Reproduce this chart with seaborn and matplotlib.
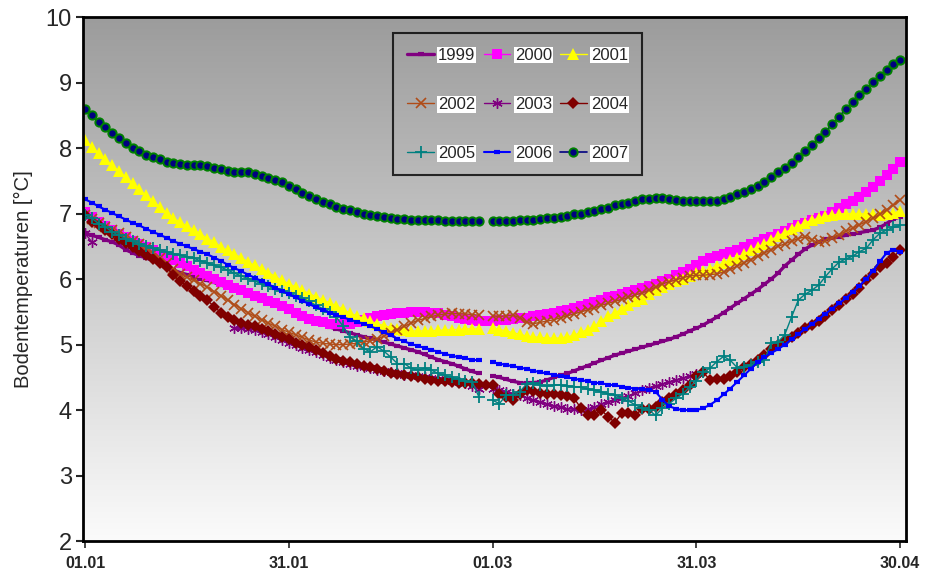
import matplotlib
matplotlib.use("Agg")
import matplotlib.pyplot as plt
from matplotlib.lines import Line2D
from matplotlib.colors import LinearSegmentedColormap
import numpy as np
import pandas as pd
import seaborn as sns

N = None  # no measurement for that day

# day index 0 = 01.01 ... 120 = 30.04 (index 59 = 29.02)
date_ticks = [0, 30, 60, 90, 120]
date_labels = ["01.01", "31.01", "01.03", "31.03", "30.04"]
years = ["1999", "2000", "2001", "2002", "2003", "2004", "2005", "2006", "2007"]

t1999 = [6.70, 6.67, 6.64, 6.60, 6.57, 6.52, 6.45, 6.40, 6.36, 6.32,
         6.29, 6.24, 6.18, 6.14, 6.10, 6.07, 6.04, 6.01, 5.98, 5.95,
         5.91, 5.88, 5.84, 5.81, 5.77, 5.73, 5.70, 5.66, 5.63, 5.59,
         5.55, 5.50, 5.45, 5.40, 5.35, 5.31, 5.27, 5.24, 5.21, 5.18,
         5.15, 5.12, 5.10, 5.07, 5.04, 5.01, 4.98, 4.95, 4.92, 4.89,
         4.85, 4.81, 4.77, 4.74, 4.71, 4.67, 4.63, 4.59, 4.56, N,
         4.52, 4.50, 4.47, 4.44, 4.42, 4.41, 4.42, 4.43, 4.46, 4.50,
         4.53, 4.56, 4.60, 4.64, 4.68, 4.72, 4.76, 4.80, 4.84, 4.87,
         4.90, 4.93, 4.96, 4.99, 5.02, 5.05, 5.08, 5.12, 5.16, 5.21,
         5.25, 5.30, 5.36, 5.42, 5.49, 5.56, 5.63, 5.70, 5.77, 5.84,
         5.92, 6.00, 6.09, 6.20, 6.29, 6.38, 6.46, 6.52, 6.57, 6.61,
         6.63, 6.65, 6.67, 6.69, 6.71, 6.73, 6.75, 6.79, 6.85, 6.92,
         6.95]

t2000 = [7.03, 6.95, 6.87, 6.81, 6.75, 6.69, 6.64, 6.58, 6.53, 6.49,
         6.44, 6.39, 6.34, 6.29, 6.25, 6.20, 6.14, 6.09, 6.05, 6.00,
         5.96, 5.91, 5.87, 5.83, 5.79, 5.74, 5.71, 5.67, 5.63, 5.59,
         5.54, 5.49, 5.43, 5.39, 5.36, 5.34, 5.32, 5.31, 5.31, 5.32,
         5.34, 5.37, 5.40, 5.43, 5.45, 5.47, 5.48, 5.49, 5.50, 5.50,
         5.50, 5.49, 5.48, 5.46, 5.44, 5.41, 5.39, 5.37, 5.36, 5.36,
         5.36, 5.37, 5.38, 5.39, 5.40, 5.41, 5.43, 5.45, 5.47, 5.49,
         5.51, 5.53, 5.56, 5.59, 5.62, 5.65, 5.68, 5.72, 5.75, 5.78,
         5.81, 5.84, 5.87, 5.90, 5.93, 5.97, 6.01, 6.06, 6.11, 6.16,
         6.21, 6.27, 6.32, 6.35, 6.38, 6.42, 6.45, 6.49, 6.53, 6.57,
         6.61, 6.65, 6.69, 6.73, 6.78, 6.82, 6.86, 6.90, 6.93, 6.97,
         7.02, 7.08, 7.15, 7.20, 7.26, 7.33, 7.41, 7.50, 7.59, 7.69,
         7.79]

t2001 = [8.12, 8.02, 7.93, 7.83, 7.74, 7.65, 7.56, 7.47, 7.37, 7.28,
         7.19, 7.10, 7.01, 6.93, 6.87, 6.81, 6.75, 6.69, 6.62, 6.57,
         6.49, 6.44, 6.38, 6.33, 6.26, 6.21, 6.16, 6.10, 6.04, 5.98,
         5.93, 5.88, 5.83, 5.78, 5.73, 5.68, 5.64, 5.59, 5.54, 5.48,
         5.44, 5.40, 5.36, 5.32, 5.29, 5.26, 5.24, 5.22, 5.21, 5.21,
         5.21, 5.21, 5.22, 5.22, 5.23, 5.23, 5.24, 5.24, 5.24, N,
         5.25, 5.23, 5.21, 5.18, 5.16, 5.13, 5.12, 5.11, 5.10, 5.10,
         5.10, 5.12, 5.14, 5.19, 5.23, 5.28, 5.36, 5.43, 5.49, 5.54,
         5.60, 5.66, 5.70, 5.77, 5.83, 5.88, 5.93, 5.97, 6.01, 6.05,
         6.09, 6.12, 6.16, 6.20, 6.25, 6.29, 6.33, 6.38, 6.44, 6.49,
         6.54, 6.60, 6.66, 6.71, 6.76, 6.81, 6.86, 6.90, 6.93, 6.96,
         6.98, 6.99, 7.00, 7.00, 7.00, 6.99, 6.99, 6.98, 6.99, 7.01,
         7.04]

t2002 = [6.98, 6.92, 6.86, 6.80, 6.75, 6.70, 6.65, 6.59, 6.53, 6.47,
         6.40, 6.33, 6.25, 6.16, 6.08, 6.03, 5.98, 5.93, 5.88, 5.81,
         5.75, 5.68, 5.61, 5.55, 5.49, 5.43, 5.38, 5.33, 5.28, 5.23,
         5.19, 5.15, 5.11, 5.07, 5.04, 5.02, 5.01, 5.00, 5.00, 5.01,
         5.02, 5.04, 5.06, 5.09, 5.13, 5.18, 5.23, 5.28, 5.33, 5.37,
         5.40, 5.43, 5.45, 5.47, 5.48, 5.47, 5.47, 5.46, 5.45, N,
         5.44, 5.43, 5.44, 5.45, 5.41, 5.34, 5.32, 5.34, 5.36, 5.38,
         5.41, 5.44, 5.47, 5.50, 5.53, 5.56, 5.60, 5.63, 5.66, 5.69,
         5.72, 5.76, 5.79, 5.83, 5.88, 5.93, 5.96, 5.99, 6.02, 6.05,
         6.06, 6.06, 6.07, 6.08, 6.11, 6.15, 6.20, 6.25, 6.30, 6.35,
         6.40, 6.45, 6.50, 6.54, 6.58, 6.62, 6.65, 6.60, 6.56, 6.59,
         6.63, 6.68, 6.73, 6.78, 6.83, 6.88, 6.93, 6.99, 7.06, 7.13,
         7.21]

t2003 = [6.70, 6.57, N, N, N, N, N, N, N, N,
         N, N, N, N, N, N, N, N, N, N,
         N, N, 5.25, 5.25, 5.24, 5.22, 5.20, 5.16, 5.12, 5.07,
         5.03, 4.99, 4.95, 4.92, 4.88, 4.84, 4.80, 4.76, 4.73, 4.70,
         4.68, 4.66, 4.64, 4.62, 4.60, 4.58, 4.56, 4.54, 4.53, 4.52,
         4.50, 4.49, 4.48, 4.46, 4.44, 4.43, 4.41, 4.37, 4.33, N,
         4.33, 4.31, 4.27, 4.25, 4.23, 4.19, 4.15, 4.12, 4.09, 4.06,
         4.04, 4.02, 4.01, 4.00, 4.01, 4.04, 4.09, 4.13, 4.16, 4.19,
         4.22, 4.26, 4.30, 4.34, 4.37, 4.40, 4.43, 4.46, 4.49, 4.52,
         4.55, N, N, N, N, N, N, N, N, N,
         N, N, N, N, N, N, N, N, N, N,
         N, N, N, N, N, N, N, N, N, N,
         N]

t2004 = [6.98, 6.88, 6.82, 6.75, 6.69, 6.62, 6.55, 6.49, 6.43, 6.37,
         6.31, 6.25, 6.18, 6.06, 5.97, 5.90, 5.82, 5.75, 5.68, 5.58,
         5.49, 5.42, 5.38, 5.33, 5.30, 5.28, 5.24, 5.21, 5.17, 5.12,
         5.08, 5.03, 4.99, 4.96, 4.92, 4.87, 4.82, 4.78, 4.75, 4.73,
         4.71, 4.68, 4.66, 4.63, 4.60, 4.57, 4.55, 4.53, 4.52, 4.50,
         4.48, 4.46, 4.45, 4.44, 4.43, 4.42, 4.42, 4.41, 4.40, 4.38,
         4.38, 4.25, 4.20, 4.15, 4.25, 4.30, 4.29, 4.26, 4.25, 4.24,
         4.23, 4.21, 4.18, 4.03, 3.92, 3.92, 4.00, 3.90, 3.81, 3.95,
         3.95, 3.93, 4.01, 4.02, 4.04, 4.12, 4.19, 4.25, 4.31, 4.38,
         4.52, 4.58, 4.46, 4.47, 4.48, 4.52, 4.58, 4.66, 4.71, 4.76,
         4.84, 4.93, 4.99, 5.06, 5.12, 5.18, 5.25, 5.30, 5.36, 5.44,
         5.53, 5.60, 5.69, 5.78, 5.87, 5.98, 6.08, 6.19, 6.24, 6.34,
         6.44]

t2005 = [6.98, 6.93, 6.85, 6.80, 6.72, 6.67, 6.62, 6.58, 6.54, 6.50,
         6.47, 6.44, 6.42, 6.39, 6.37, 6.34, 6.32, 6.28, 6.25, 6.21,
         6.18, 6.14, 6.09, 6.05, 6.01, 5.97, 5.93, 5.89, 5.85, 5.82,
         5.79, 5.75, 5.71, 5.66, 5.60, 5.55, 5.50, 5.42, 5.28, 5.12,
         5.05, 4.94, 4.89, 4.97, 4.90, 4.81, 4.71, 4.71, 4.64, 4.61,
         4.64, 4.61, 4.56, 4.53, 4.50, 4.48, 4.44, 4.43, 4.20, N,
         4.15, 4.10, 4.23, 4.23, 4.28, 4.40, 4.41, 4.38, 4.37, 4.38,
         4.38, 4.37, 4.36, 4.35, 4.32, 4.31, 4.28, 4.25, 4.23, 4.18,
         4.14, 4.08, 4.03, 4.00, 3.92, 4.03, 4.10, 4.18, 4.25, 4.35,
         4.45, 4.58, 4.64, 4.74, 4.82, 4.76, 4.65, 4.66, 4.69, 4.74,
         4.76, 5.02, 5.04, 5.15, 5.42, 5.68, 5.77, 5.83, 5.91, 6.04,
         6.16, 6.26, 6.31, 6.35, 6.42, 6.47, 6.60, 6.70, 6.75, 6.79,
         6.82]

t2006 = [7.22, 7.17, 7.11, 7.06, 7.01, 6.96, 6.91, 6.86, 6.82, 6.77,
         6.72, 6.68, 6.63, 6.58, 6.54, 6.50, 6.46, 6.42, 6.38, 6.33,
         6.28, 6.22, 6.17, 6.12, 6.07, 6.02, 5.97, 5.92, 5.87, 5.82,
         5.77, 5.72, 5.67, 5.62, 5.57, 5.53, 5.49, 5.45, 5.42, 5.38,
         5.35, 5.32, 5.28, 5.24, 5.19, 5.14, 5.09, 5.05, 5.01, 4.98,
         4.95, 4.92, 4.89, 4.86, 4.83, 4.81, 4.79, 4.77, 4.76, N,
         4.73, 4.71, 4.69, 4.67, 4.65, 4.63, 4.60, 4.58, 4.56, 4.54,
         4.52, 4.50, 4.48, 4.46, 4.44, 4.42, 4.41, 4.39, 4.38, 4.36,
         4.34, 4.33, 4.32, 4.31, 4.28, 4.16, 4.06, 4.02, 4.00, 4.00,
         4.00, 4.03, 4.08, 4.15, 4.24, 4.33, 4.43, 4.53, 4.63, 4.73,
         4.81, 4.87, 4.93, 5.00, 5.08, 5.16, 5.24, 5.31, 5.39, 5.47,
         5.55, 5.63, 5.71, 5.80, 5.90, 6.00, 6.13, 6.27, 6.40, 6.45,
         6.42]

t2007 = [8.60, 8.50, 8.40, 8.32, 8.23, 8.16, 8.08, 8.01, 7.95, 7.90,
         7.86, 7.83, 7.79, 7.77, 7.76, 7.75, 7.74, 7.74, 7.73, 7.70,
         7.68, 7.65, 7.64, 7.63, 7.63, 7.60, 7.57, 7.55, 7.52, 7.49,
         7.42, 7.37, 7.32, 7.27, 7.22, 7.18, 7.15, 7.10, 7.07, 7.05,
         7.02, 7.00, 6.98, 6.96, 6.95, 6.93, 6.92, 6.92, 6.91, 6.91,
         6.90, 6.90, 6.90, 6.89, 6.89, 6.89, 6.885, 6.885, 6.885, N,
         6.885, 6.885, 6.89, 6.895, 6.90, 6.905, 6.91, 6.92, 6.93, 6.94,
         6.95, 6.97, 6.99, 7.00, 7.02, 7.04, 7.07, 7.09, 7.125, 7.15,
         7.17, 7.20, 7.22, 7.23, 7.24, 7.24, 7.23, 7.21, 7.20, 7.19,
         7.19, 7.19, 7.19, 7.20, 7.23, 7.26, 7.30, 7.33, 7.38, 7.42,
         7.48, 7.56, 7.63, 7.70, 7.78, 7.87, 7.96, 8.05, 8.16, 8.25,
         8.37, 8.48, 8.60, 8.71, 8.82, 8.91, 9.01, 9.10, 9.19, 9.28,
         9.34]

series = dict(zip(years, [t1999, t2000, t2001, t2002, t2003,
                          t2004, t2005, t2006, t2007]))

styles = {
    "1999": dict(color="#800080", marker="_", markersize=5, markeredgewidth=3,
                 markerfacecolor="#800080", markeredgecolor="#800080", linewidth=2.4),
    "2000": dict(color="#FF00FF", marker="s", markersize=7.5, markeredgewidth=0,
                 markerfacecolor="#FF00FF", markeredgecolor="#FF00FF", linewidth=1.0),
    "2001": dict(color="#FFFF00", marker="^", markersize=8.5, markeredgewidth=0,
                 markerfacecolor="#FFFF00", markeredgecolor="#FFFF00", linewidth=1.0),
    "2002": dict(color="#B04C18", marker="x", markersize=6.5, markeredgewidth=1.2,
                 markerfacecolor="#B04C18", markeredgecolor="#B04C18", linewidth=1.0),
    "2003": dict(color="#800080", marker=(6, 2, 0), markersize=7.5, markeredgewidth=1.0,
                 markerfacecolor="#800080", markeredgecolor="#800080", linewidth=1.0),
    "2004": dict(color="#800000", marker="D", markersize=6, markeredgewidth=0,
                 markerfacecolor="#800000", markeredgecolor="#800000", linewidth=1.0),
    "2005": dict(color="#008080", marker="+", markersize=8, markeredgewidth=1.3,
                 markerfacecolor="#008080", markeredgecolor="#008080", linewidth=1.0),
    "2006": dict(color="#0000FF", marker="_", markersize=4.5, markeredgewidth=3,
                 markerfacecolor="#0000FF", markeredgecolor="#0000FF", linewidth=1.5),
    "2007": dict(color="#000080", marker="o", markersize=6, markeredgewidth=1.4,
                 markerfacecolor="#000080", markeredgecolor="#008000", linewidth=1.2),
}

# long-form table; a new segment starts after every missing day
rows = []
for year, vals in series.items():
    seg = 0
    for day, val in enumerate(vals):
        if val is None:
            seg += 1
            continue
        rows.append((year, day, val, seg))
df = pd.DataFrame(rows, columns=["year", "day", "temp", "seg"])

sns.set_style("ticks")
plt.rcParams["font.family"] = ["Liberation Sans", "DejaVu Sans"]

fig, ax = plt.subplots(figsize=(9.26, 5.75), dpi=100)
fig.subplots_adjust(left=0.0896, right=0.978, top=0.970, bottom=0.059)

x0, x1, y0, y1 = -0.3, 120.8, 2, 10

# grey-to-white plot background
bg = LinearSegmentedColormap.from_list("bg", ["#fbfbfb", "#9c9c9c"])
ax.imshow(np.linspace(0, 1, 256).reshape(-1, 1), extent=[x0, x1, y0, y1],
          origin="lower", aspect="auto", cmap=bg, zorder=0)

for year in years:
    sns.lineplot(data=df[df["year"] == year], x="day", y="temp", units="seg",
                 estimator=None, ax=ax, legend=False, **styles[year])

ax.set_xlim(x0, x1)
ax.set_ylim(y0, y1)
ax.set_xticks(date_ticks)
ax.set_xticklabels(date_labels, fontweight="bold", fontsize=11.5,
                   family=["Liberation Sans Narrow", "Liberation Sans"])
ax.set_yticks(range(2, 11))
ax.tick_params(axis="y", labelsize=17, length=5, width=1.5, direction="out", pad=3)
ax.tick_params(axis="x", length=5, width=1.2, direction="out", pad=6)
ax.set_xlabel("")
ax.set_ylabel("Bodentemperaturen [°C]", fontsize=14.5, labelpad=9)
for sp in ax.spines.values():
    sp.set_visible(True)
    sp.set_linewidth(2)
    sp.set_color("black")

# legend filled row by row (matplotlib fills columns first)
order = ["1999", "2002", "2005", "2000", "2003", "2006", "2001", "2004", "2007"]
handles = [Line2D([0], [0], **styles[y]) for y in order]
leg = ax.legend(handles, order, ncol=3, loc="upper left",
                bbox_to_anchor=(0.377, 0.969), fontsize=12, frameon=True,
                fancybox=False, handlelength=1.6, handletextpad=0.25,
                columnspacing=0.5, labelspacing=2.05, borderpad=0.85,
                borderaxespad=0, numpoints=1)
frame = leg.get_frame()
frame.set_facecolor("none")
frame.set_edgecolor("black")
frame.set_linewidth(1.5)
for txt in leg.get_texts():
    txt.set_bbox(dict(facecolor="white", edgecolor="none", pad=0.6))

fig.savefig("out.png", dpi=100)
